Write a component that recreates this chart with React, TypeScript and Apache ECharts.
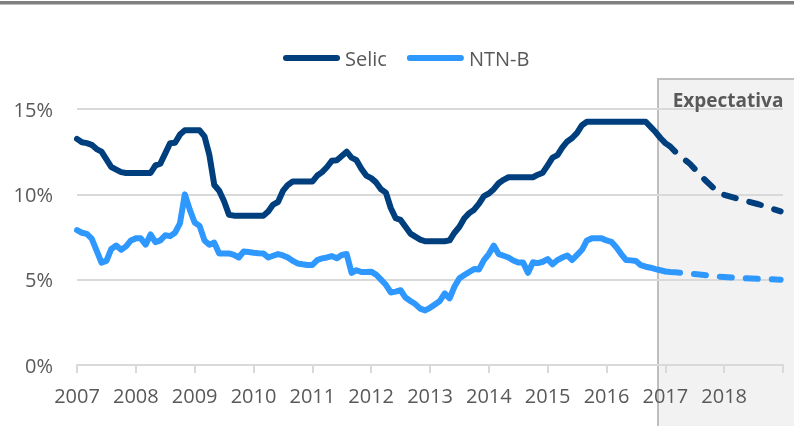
import React, { useEffect, useRef } from 'react';
import * as echarts from 'echarts';

// Monthly values, Jan 2007 onward (% a.a.)
const START_YEAR = 2007;
const selicHist = [
  13.25, 13.05, 13.0, 12.9, 12.65, 12.5, 12.05, 11.6, 11.45, 11.3,
  11.25, 11.25, 11.25, 11.25, 11.25, 11.25, 11.7, 11.8, 12.4, 13.0,
  13.02, 13.5, 13.75, 13.75, 13.75, 13.75, 13.4, 12.3, 10.55, 10.21,
  9.6, 8.8, 8.75, 8.75, 8.75, 8.75, 8.75, 8.75, 8.75, 9.0,
  9.4, 9.55, 10.2, 10.55, 10.75, 10.75, 10.75, 10.75, 10.75, 11.1,
  11.3, 11.6, 11.97, 12.0, 12.25, 12.5, 12.15, 12.0, 11.5, 11.1,
  10.95, 10.7, 10.3, 10.1, 9.2, 8.6, 8.5, 8.1, 7.7, 7.52,
  7.35, 7.25, 7.25, 7.25, 7.25, 7.25, 7.3, 7.75, 8.1, 8.6,
  8.9, 9.1, 9.45, 9.9, 10.05, 10.3, 10.65, 10.85, 11.0, 11.0,
  11.0, 11.0, 11.0, 11.0, 11.15, 11.27, 11.7, 12.15, 12.3, 12.75,
  13.1, 13.3, 13.6, 14.05, 14.25, 14.25, 14.25, 14.25, 14.25, 14.25,
  14.25, 14.25, 14.25, 14.25, 14.25, 14.25, 14.25, 13.95, 13.65, 13.3,
  13.0, 12.8, 12.5,
];
const ntnbHist = [
  7.9, 7.75, 7.68, 7.4, 6.7, 6.0, 6.1, 6.8, 7.0, 6.75,
  6.95, 7.3, 7.42, 7.42, 7.05, 7.65, 7.2, 7.3, 7.6, 7.55,
  7.75, 8.3, 10.0, 9.1, 8.35, 8.15, 7.3, 7.05, 7.17, 6.54,
  6.54, 6.54, 6.45, 6.3, 6.65, 6.62, 6.58, 6.55, 6.54, 6.3,
  6.4, 6.5, 6.42, 6.3, 6.1, 5.95, 5.9, 5.86, 5.86, 6.15,
  6.25, 6.3, 6.38, 6.25, 6.45, 6.5, 5.4, 5.55, 5.45, 5.45,
  5.47, 5.3, 5.0, 4.7, 4.25, 4.3, 4.38, 3.95, 3.75, 3.57,
  3.3, 3.2, 3.35, 3.55, 3.75, 4.2, 3.9, 4.6, 5.08, 5.27,
  5.45, 5.62, 5.6, 6.15, 6.5, 7.0, 6.5, 6.4, 6.3, 6.12,
  6.0, 6.0, 5.4, 6.02, 5.97, 6.05, 6.2, 5.9, 6.15, 6.3,
  6.42, 6.15, 6.45, 6.75, 7.3, 7.42, 7.42, 7.42, 7.3, 7.22,
  6.9, 6.5, 6.15, 6.13, 6.1, 5.85, 5.76, 5.7, 5.62, 5.55,
  5.48, 5.45, 5.43, 5.41,
];

// Expectations (decimal years)
const selicForecastYears = [2017.1667, 2017.4167, 2017.6667, 2017.9167, 2018.25, 2018.5833, 2018.96];
const selicForecast = [12.5, 11.79, 10.87, 10.05, 9.72, 9.42, 9.0];
const ntnbForecastYears = [2017.25, 2017.5833, 2017.9167, 2018.25, 2018.5833, 2018.96];
const ntnbForecast = [5.41, 5.3, 5.18, 5.1, 5.05, 5.0];

const yTicks = [0, 5, 10, 15];
const xStart = 2007;
const xEnd = 2019;
const shadeLabel = 'Expectativa';

const SELIC = '#003f7e';
const NTNB = '#2e98ff';
const TXT = '#595959';
const FONT = 'Open Sans';

export default function App() {
  const ref = useRef<HTMLDivElement>(null);
  useEffect(() => {
    if (!ref.current) return;
    const chart = echarts.init(ref.current, null, { renderer: 'svg' });
    const hist = (arr: number[]) => arr.map((v, i) => [START_YEAR + i / 12, v]);
    const fc = (xs: number[], ys: number[]) => xs.map((x, i) => [x, ys[i]]);
    const pill = 'path://M3,0 L54,0 A3,3 0 0 1 54,6 L3,6 A3,3 0 0 1 3,0 Z';
    const LW = 6;
    chart.setOption({
      animation: false,
      textStyle: { fontFamily: FONT },
      legend: {
        data: [
          { name: 'Selic', icon: pill },
          { name: 'NTN-B', icon: pill },
        ],
        left: 278,
        top: 43,
        itemWidth: 57,
        itemHeight: 6,
        itemGap: 20,
        textStyle: { fontSize: 20, color: TXT, fontFamily: FONT },
      },
      grid: { left: 77, right: 11, top: 109, bottom: 61, containLabel: false },
      xAxis: {
        type: 'value',
        min: xStart,
        max: xEnd,
        interval: 1,
        axisLine: { show: true, lineStyle: { color: '#d9d9d9', width: 2 } },
        axisTick: { show: true, length: 8, lineStyle: { color: '#d9d9d9', width: 2 } },
        axisLabel: {
          margin: 20,
          fontSize: 20,
          color: TXT,
          fontFamily: FONT,
          formatter: (v: number) => (v === xEnd ? '' : String(v)),
        },
        splitLine: { show: false },
      },
      yAxis: {
        type: 'value',
        min: yTicks[0],
        max: yTicks[yTicks.length - 1],
        interval: 5,
        axisLine: { show: false },
        axisTick: { show: false },
        axisLabel: { formatter: '{value}%', margin: 24, fontSize: 20, color: TXT, fontFamily: FONT },
        splitLine: { lineStyle: { color: '#d9d9d9', width: 2 } },
      },
      graphic: [
        { type: 'rect', shape: { x: 0, y: 1, width: 794, height: 3.5 }, style: { fill: '#808080' } },
        {
          type: 'rect',
          z: -1,
          shape: { x: 658, y: 79, width: 200, height: 400 },
          style: { fill: '#f2f2f2', stroke: '#bfbfbf', lineWidth: 2 },
        },
        {
          type: 'text',
          z: 10,
          x: 728,
          y: 100,
          style: {
            text: shadeLabel,
            fontSize: 19,
            fontWeight: 'bold',
            fill: TXT,
            fontFamily: FONT,
            align: 'center',
            verticalAlign: 'middle',
          },
        },
      ],
      series: [
        {
          name: 'Selic', type: 'line', data: hist(selicHist), showSymbol: false, symbol: 'none', z: 3,
          itemStyle: { color: SELIC },
          lineStyle: { color: SELIC, width: LW, cap: 'round', join: 'round' },
        },
        {
          name: 'NTN-B', type: 'line', data: hist(ntnbHist), showSymbol: false, symbol: 'none', z: 3,
          itemStyle: { color: NTNB },
          lineStyle: { color: NTNB, width: LW, cap: 'round', join: 'round' },
        },
        {
          name: 'Selic', type: 'line', data: fc(selicForecastYears, selicForecast), showSymbol: false, symbol: 'none', z: 3,
          itemStyle: { color: SELIC },
          lineStyle: { color: SELIC, width: LW, cap: 'round', join: 'round', type: [12, 14], dashOffset: 12 },
        },
        {
          name: 'NTN-B', type: 'line', data: fc(ntnbForecastYears, ntnbForecast), showSymbol: false, symbol: 'none', z: 3,
          itemStyle: { color: NTNB },
          lineStyle: { color: NTNB, width: LW, cap: 'round', join: 'round', type: [12, 14], dashOffset: 12 },
        },
      ],
    });
    return () => chart.dispose();
  }, []);
  return <div ref={ref} style={{ position: 'fixed', left: 0, top: 0, width: 794, height: 426 }} />;
}
